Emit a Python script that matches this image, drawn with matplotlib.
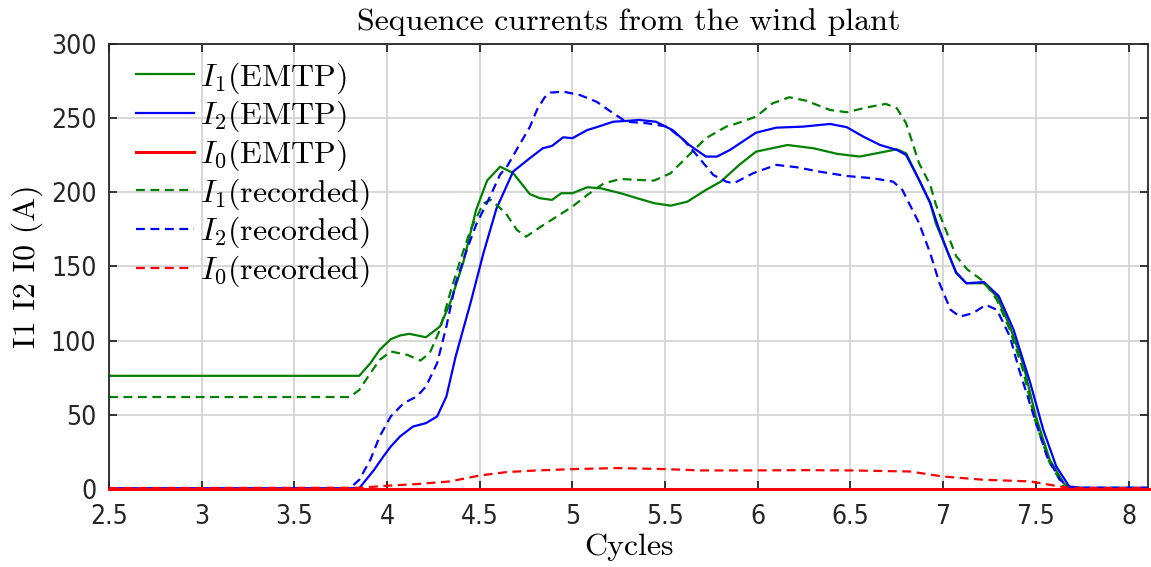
import matplotlib
matplotlib.use("Agg")
import matplotlib.pyplot as plt

# ---------------- data ----------------
x_i1_emtp = [2.5, 3.85, 3.91, 3.96, 4.02, 4.07, 4.12, 4.21, 4.285, 4.34, 4.41, 4.48, 4.54, 4.61,
             4.68, 4.77, 4.825, 4.89, 4.94, 5.0, 5.08, 5.15, 5.26, 5.35, 5.44, 5.53, 5.62, 5.72,
             5.80, 5.90, 5.99, 6.16, 6.30, 6.43, 6.55, 6.66, 6.75, 6.80, 6.87, 6.93, 6.96, 7.02,
             7.07, 7.125, 7.22, 7.29, 7.36, 7.43, 7.50, 7.575, 7.65, 7.68, 7.75, 8.125]
y_i1_emtp = [76.3, 76.3, 84.8, 93.8, 101, 103.5, 104.6, 102.3, 109.5, 125.3, 152.2, 188, 208, 217.3,
             213, 198.8, 196, 194.9, 199.4, 199.4, 203.4, 202.8, 199.4, 196, 192.7, 191, 193.7, 201.6,
             207.2, 218.5, 227.4, 231.9, 229.7, 225.9, 224.1, 226.8, 229, 226.3, 208.4, 192.7, 179.2, 161.2,
             145.5, 138.7, 138.7, 129.7, 109.5, 84.8, 48.9, 19.7, 4, 0.6, 0.6, 0.6]

x_i2_emtp = [2.5, 3.85, 3.93, 3.98, 4.02, 4.07, 4.14, 4.21, 4.27, 4.32, 4.37, 4.45, 4.52, 4.59,
             4.68, 4.77, 4.84, 4.89, 4.95, 5.0, 5.08, 5.13, 5.22, 5.31, 5.36, 5.45, 5.54, 5.63,
             5.72, 5.78, 5.85, 5.89, 5.99, 6.10, 6.245, 6.39, 6.48, 6.57, 6.66, 6.75, 6.80, 6.87,
             6.93, 6.97, 7.02, 7.07, 7.125, 7.22, 7.30, 7.38, 7.47, 7.54, 7.61, 7.68, 7.75, 8.125]
y_i2_emtp = [0.5, 0.5, 12.9, 21.9, 28.6, 35.4, 42.1, 44.4, 48.9, 62.3, 89.3, 125.3, 159, 189,
             214, 223, 229.7, 231.3, 237.1, 236.5, 242, 243.9, 247.6, 248.3, 248.8, 247.6, 242, 231.9,
             224.1, 224.1, 228.6, 231.9, 240.2, 243.6, 244.3, 246.1, 243.9, 237.5, 231.9, 228.6, 225.2, 208.4,
             193, 178, 161, 146, 138.7, 139.5, 130, 107.3, 71.4, 39.9, 15.2, 1.7, 0.8, 0.8]

x_i0_emtp = [2.5, 8.125]
y_i0_emtp = [0.0, 0.0]

x_i1_rec = [2.5, 3.80, 3.85, 3.91, 3.96, 4.02, 4.11, 4.18, 4.23, 4.285, 4.34, 4.39, 4.45, 4.52,
            4.56, 4.64, 4.70, 4.75, 4.83, 4.915, 5.0, 5.08, 5.17, 5.26, 5.35, 5.44, 5.53, 5.62,
            5.72, 5.83, 5.89, 5.99, 6.08, 6.17, 6.26, 6.39, 6.48, 6.59, 6.69, 6.75, 6.80, 6.87,
            6.93, 6.96, 7.0, 7.05, 7.07, 7.13, 7.22, 7.29, 7.36, 7.43, 7.50, 7.575, 7.65, 7.72, 8.125]
y_i1_rec = [62, 62, 66.8, 78.1, 87, 92.7, 90.4, 86.6, 91.6, 107.3, 132, 152.2, 174.7, 192.6,
            194.9, 186, 174.7, 170.1, 176.9, 183.6, 190.4, 198.2, 206.1, 209, 208.4, 207.9, 212.9, 224.1,
            236.5, 244.3, 246.6, 251, 260, 264.1, 261.8, 255.5, 254, 257.3, 259.6, 256.7, 246.6, 219.6,
            205, 192, 179, 163.4, 157, 148, 139.8, 127.5, 107.3, 80.3, 44.4, 17.5, 1.7, 0.6, 0.6]

x_i2_rec = [2.5, 3.80, 3.85, 3.91, 3.96, 4.02, 4.09, 4.16, 4.21, 4.27, 4.32, 4.37, 4.43, 4.48,
            4.555, 4.61, 4.65, 4.70, 4.77, 4.81, 4.85, 4.88, 4.95, 5.04, 5.13, 5.22, 5.29, 5.40,
            5.51, 5.60, 5.67, 5.76, 5.83, 5.87, 5.975, 6.10, 6.21, 6.33, 6.48, 6.62, 6.73, 6.78,
            6.87, 6.93, 6.98, 7.04, 7.09, 7.16, 7.23, 7.29, 7.36, 7.41, 7.49, 7.56, 7.63, 7.68, 7.75, 8.125]
y_i2_rec = [0.6, 0.6, 6.2, 19.7, 35.4, 48.9, 57.9, 62.3, 69.1, 84.8, 109.5, 138.7, 161.2, 178,
            197, 212, 218, 229, 244, 256, 264, 267.2, 267.9, 265.6, 261.1, 253.3, 247.6, 246.6,
            244.3, 235.3, 225.2, 211.7, 207.2, 206.1, 212.9, 218.5, 216.9, 214, 211, 209.5, 207.2, 201.6,
            179.2, 159, 138.7, 120.8, 116.2, 118.5, 124.1, 120.8, 102.8, 80.3, 48.9, 21.9, 6.2, 1.3, 0.8, 0.8]

x_i0_rec = [2.5, 3.85, 4.0, 4.16, 4.34, 4.50, 4.645, 4.81, 5.0, 5.24, 5.50, 5.69, 5.96, 6.25,
            6.50, 6.82, 7.0, 7.22, 7.47, 7.575, 7.665, 7.75, 8.125]
y_i0_rec = [0.6, 0.8, 2.2, 3.3, 5.1, 9.1, 11.4, 12.5, 13.4, 14.1, 13.4, 12.5, 12.5, 12.7,
            12.5, 11.8, 8.4, 6.2, 5.1, 2.8, 1.0, 0.6, 0.6]

labels = [r"$I_1$(EMTP)", r"$I_2$(EMTP)", r"$I_0$(EMTP)",
          r"$I_1$(recorded)", r"$I_2$(recorded)", r"$I_0$(recorded)"]
x_ticks = [2.5, 3, 3.5, 4, 4.5, 5, 5.5, 6, 6.5, 7, 7.5, 8]
y_ticks = [0, 50, 100, 150, 200, 250, 300]

# ---------------- style ----------------
plt.rcParams['mathtext.fontset'] = 'cm'
serif = ['cmr10', 'DejaVu Serif']

GREEN = '#008000'
BLUE = '#0000ff'
RED = '#ff0000'

fig = plt.figure(figsize=(11.51, 5.67), dpi=100)
ax = fig.add_axes([0.0947, 0.1376, 0.9974 - 0.0947, 0.9224 - 0.1376])

lw = 1.6
dash = (4, 2.5)
ax.plot(x_i1_emtp, y_i1_emtp, color=GREEN, lw=lw, label=labels[0])
ax.plot(x_i2_emtp, y_i2_emtp, color=BLUE, lw=lw, label=labels[1])
ax.plot(x_i0_emtp, y_i0_emtp, color=RED, lw=2.2, label=labels[2], clip_on=False, zorder=5)
ax.plot(x_i1_rec, y_i1_rec, color=GREEN, lw=lw, ls=(0, dash), label=labels[3])
ax.plot(x_i2_rec, y_i2_rec, color=BLUE, lw=lw, ls=(0, dash), label=labels[4])
ax.plot(x_i0_rec, y_i0_rec, color=RED, lw=lw, ls=(0, dash), label=labels[5])

ax.set_xlim(2.5, 8.105)
ax.set_ylim(0, 300)
ax.set_xticks(x_ticks)
ax.set_xticklabels([f"{v:g}" for v in x_ticks])
ax.set_yticks(y_ticks)
ax.set_yticklabels([str(v) for v in y_ticks])

ax.grid(True, color='#d4d4d4', lw=1.3)
ax.set_axisbelow(True)
for s in ax.spines.values():
    s.set_color('#262626')
    s.set_linewidth(1.3)
ax.tick_params(direction='in', length=6, width=1.3, color='#262626',
               top=True, right=True, labelsize=19, labelcolor='#262626')
ax.tick_params(axis='x', pad=11)
ax.tick_params(axis='y', pad=9)
for t in ax.get_xticklabels() + ax.get_yticklabels():
    t.set_family('DejaVu Sans')
    t.set_stretch('condensed')

ax.set_title("Sequence currents from the wind plant", family=serif, fontsize=23, pad=10)
ax.set_xlabel("Cycles", family=serif, fontsize=23, labelpad=2)
ax.set_ylabel("I1 I2 I0 (A)", family=serif, fontsize=23, labelpad=6)

leg = ax.legend(loc='upper left', bbox_to_anchor=(0.0, 1.0 + 11 / 445),
                frameon=False, prop={'family': serif, 'size': 23},
                handlelength=1.8, handletextpad=0.2, labelspacing=0.1,
                borderaxespad=0.3, borderpad=0.55)

fig.savefig("out.png", dpi=100)
